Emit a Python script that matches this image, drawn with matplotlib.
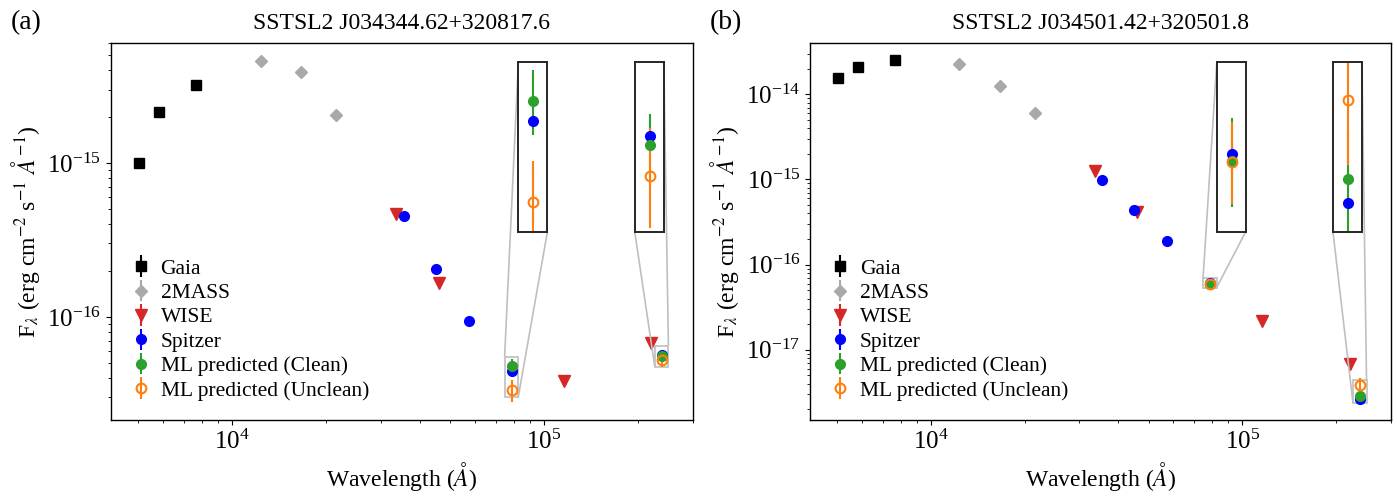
import matplotlib
matplotlib.use("Agg")
import matplotlib.pyplot as plt
from mpl_toolkits.axes_grid1.inset_locator import mark_inset

plt.rcParams['font.family'] = ['Liberation Serif', 'DejaVu Serif']
plt.rcParams['mathtext.fontset'] = 'stix'

# wavelengths in Angstrom
gaia_wl = [5050, 5850, 7650]
tmass_wl = [12350, 16620, 21590]
wise_wl = [33526, 46028, 115608, 220883]
spitzer_wl = [35500, 44930, 57310, 78720, 238440]
ml_wl = [78720, 238440]

titles = ['SSTSL2 J034344.62+320817.6', 'SSTSL2 J034501.42+320501.8']
panel_tags = ['(a)', '(b)']

# (a) fluxes, erg cm-2 s-1 A-1
gaia_a = [1.00e-15, 2.14e-15, 3.20e-15]
gaia_a_err = [0.02e-15, 0.03e-15, 0.04e-15]
tmass_a = [4.59e-15, 3.91e-15, 2.05e-15]
tmass_a_err = [0.10e-15, 0.09e-15, 0.05e-15]
wise_a = [4.67e-16, 1.66e-16, 3.86e-17, 6.75e-17]
wise_a_err = [0.10e-16, 0.04e-16, 0.10e-17, 0.20e-17]
spitzer_a = [4.53e-16, 2.05e-16, 9.40e-17, 4.46e-17, 5.65e-17]
spitzer_a_err = [0.08e-16, 0.04e-16, 0.20e-17, 0.10e-17, 0.10e-17]
clean_a = [4.80e-17, 5.56e-17]
clean_a_err = [0.56e-17, 0.33e-17]
unclean_a = [3.33e-17, 5.25e-17]
unclean_a_err = [0.54e-17, 0.49e-17]

# (b)
gaia_b = [1.57e-14, 2.12e-14, 2.51e-14]
gaia_b_err = [0.03e-14, 0.04e-14, 0.05e-14]
tmass_b = [2.30e-14, 1.24e-14, 5.97e-15]
tmass_b_err = [0.05e-14, 0.03e-14, 0.12e-15]
wise_b = [1.25e-15, 4.12e-16, 2.19e-17, 6.90e-18]
wise_b_err = [0.03e-15, 0.08e-16, 0.06e-17, 0.20e-18]
spitzer_b = [9.80e-16, 4.41e-16, 1.87e-16, 6.04e-17, 2.64e-18]
spitzer_b_err = [0.20e-16, 0.09e-16, 0.04e-16, 0.10e-17, 0.05e-18]
clean_b = [5.98e-17, 2.88e-18]
clean_b_err = [0.40e-17, 0.56e-18]
unclean_b = [5.97e-17, 3.85e-18]
unclean_b_err = [0.37e-17, 0.82e-18]

panels = [
    (gaia_a, gaia_a_err, tmass_a, tmass_a_err, wise_a, wise_a_err,
     spitzer_a, spitzer_a_err, clean_a, clean_a_err, unclean_a, unclean_a_err),
    (gaia_b, gaia_b_err, tmass_b, tmass_b_err, wise_b, wise_b_err,
     spitzer_b, spitzer_b_err, clean_b, clean_b_err, unclean_b, unclean_b_err),
]
ylims = [(2.14e-17, 6.0e-15), (1.5e-18, 3.98e-14)]
xlim = (4100, 3.0e5)


def draw_ml(ax, i, spitzer, spitzer_err, clean, clean_err, unclean, unclean_err, label=False):
    j = 3 + i
    ax.errorbar(spitzer_wl[j], spitzer[j], yerr=spitzer_err[j], fmt='o', color='blue', ms=7,
                label='Spitzer' if label else None)
    ax.errorbar(ml_wl[i], clean[i], yerr=clean_err[i], fmt='o', color='tab:green', ms=7,
                label='ML predicted (Clean)' if label else None)
    ax.errorbar(ml_wl[i], unclean[i], yerr=unclean_err[i], fmt='o', color='tab:orange', ms=7,
                mfc='none', mew=1.5, label='ML predicted (Unclean)' if label else None)


fig = plt.figure(figsize=(13.97, 4.97), dpi=100)
positions = [[0.0795, 0.155, 0.4165, 0.758], [0.580, 0.155, 0.4157, 0.758]]

for k, data in enumerate(panels):
    (gaia, gaia_err, tmass, tmass_err, wise, wise_err,
     spitzer, spitzer_err, clean, clean_err, unclean, unclean_err) = data
    ax = fig.add_axes(positions[k])
    ax.set_xscale('log')
    ax.set_yscale('log')
    ax.errorbar(gaia_wl, gaia, yerr=gaia_err, fmt='s', color='black', ms=7, label='Gaia')
    ax.errorbar(tmass_wl, tmass, yerr=tmass_err, fmt='D', color='darkgray', ms=6, label='2MASS')
    ax.errorbar(wise_wl, wise, yerr=wise_err, fmt='v', color='tab:red', ms=8, label='WISE')
    ax.errorbar(spitzer_wl[:3], spitzer[:3], yerr=spitzer_err[:3], fmt='o', color='blue', ms=7)
    draw_ml(ax, 0, spitzer, spitzer_err, clean, clean_err, unclean, unclean_err, label=True)
    draw_ml(ax, 1, spitzer, spitzer_err, clean, clean_err, unclean, unclean_err)
    ax.set_xlim(*xlim)
    ax.set_ylim(*ylims[k])
    ax.tick_params(which='major', labelsize=18)
    for s in ax.spines.values():
        s.set_linewidth(1.0)
    ax.set_xlabel(r'Wavelength ($\AA$)', fontsize=17)
    ax.set_ylabel(r'F$_\lambda$ (erg cm$^{-2}$ s$^{-1}$ $\AA^{-1}$)', fontsize=17)
    ax.set_title(titles[k], fontsize=17, pad=10)
    ax.legend(loc='lower left', frameon=False, fontsize=15.5, handlelength=1.0,
              handletextpad=0.4, labelspacing=0.2)

    # zoomed insets around the ML predicted points
    for i, (rect, locs) in enumerate([([0.70, 0.50, 0.05, 0.45], (2, 4)),
                                      ([0.90, 0.50, 0.05, 0.45], (1, 3))]):
        axins = ax.inset_axes(rect)
        axins.set_xscale('log')
        axins.set_yscale('log')
        draw_ml(axins, i, spitzer, spitzer_err, clean, clean_err, unclean, unclean_err)
        vals = [spitzer[3 + i], clean[i], unclean[i]]
        axins.set_xlim(ml_wl[i] * 0.95, ml_wl[i] * 1.05)
        axins.set_ylim(min(vals) * 0.9, max(vals) * 1.15)
        axins.set_xticks([])
        axins.set_xticks([], minor=True)
        axins.set_yticks([])
        axins.set_yticks([], minor=True)
        for s in axins.spines.values():
            s.set_color('0.15')
            s.set_linewidth(1.4)
        mark_inset(ax, axins, loc1=locs[0], loc2=locs[1], fc='none', ec='0.75', lw=1.2)

    fig.text(positions[k][0] - 0.072, 0.955, panel_tags[k], fontsize=20, va='center')

fig.savefig('out.png', dpi=100)
